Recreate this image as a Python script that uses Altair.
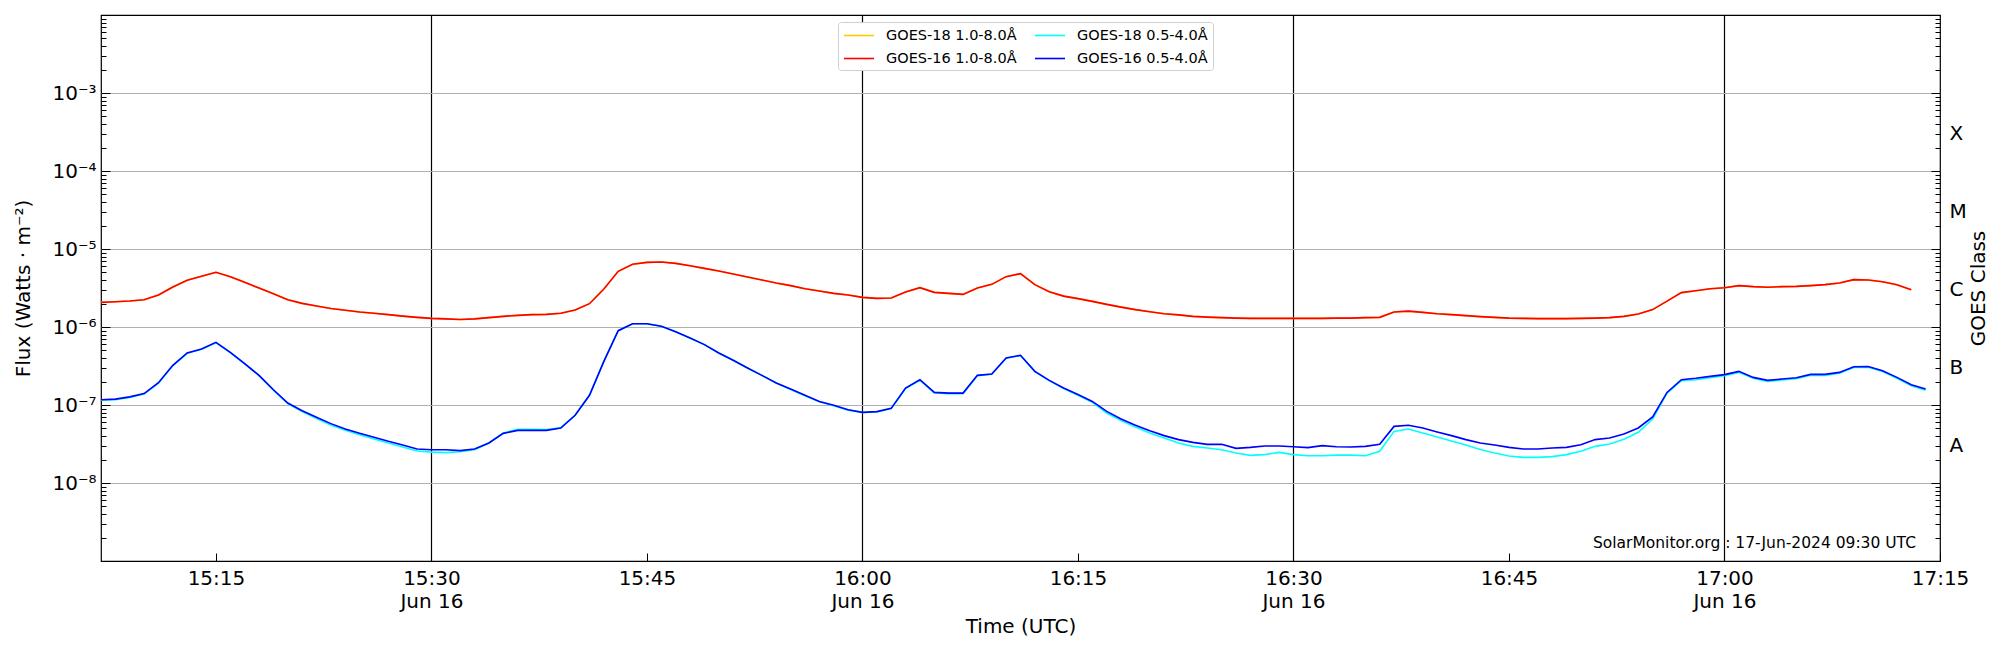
import math
import altair as alt
import pandas as pd

# ---- data (1-minute cadence starting 15:07 UTC, 16 Jun 2024) ----
start_time = "2024-06-16 15:07"

goes16_long = [
    2.07e-6, 2.11e-6, 2.15e-6, 2.24e-6, 2.57e-6, 3.26e-6, 3.97e-6, 4.46e-6, 5.02e-6, 4.42e-6,
    3.74e-6, 3.16e-6, 2.67e-6, 2.24e-6, 2.01e-6, 1.86e-6, 1.73e-6, 1.64e-6, 1.56e-6, 1.50e-6,
    1.44e-6, 1.38e-6, 1.33e-6, 1.29e-6, 1.27e-6, 1.25e-6, 1.27e-6, 1.32e-6, 1.37e-6, 1.41e-6,
    1.44e-6, 1.45e-6, 1.50e-6, 1.65e-6, 1.99e-6, 3.07e-6, 5.18e-6, 6.36e-6, 6.74e-6, 6.81e-6,
    6.54e-6, 6.11e-6, 5.65e-6, 5.22e-6, 4.78e-6, 4.38e-6, 4.01e-6, 3.66e-6, 3.39e-6, 3.10e-6,
    2.90e-6, 2.70e-6, 2.57e-6, 2.40e-6, 2.33e-6, 2.35e-6, 2.81e-6, 3.19e-6, 2.78e-6, 2.70e-6,
    2.62e-6, 3.16e-6, 3.52e-6, 4.42e-6, 4.83e-6, 3.49e-6, 2.84e-6, 2.49e-6, 2.31e-6, 2.13e-6,
    1.95e-6, 1.80e-6, 1.67e-6, 1.57e-6, 1.48e-6, 1.43e-6, 1.37e-6, 1.34e-6, 1.32e-6, 1.30e-6,
    1.29e-6, 1.29e-6, 1.29e-6, 1.29e-6, 1.29e-6, 1.29e-6, 1.30e-6, 1.30e-6, 1.32e-6, 1.33e-6,
    1.56e-6, 1.60e-6, 1.54e-6, 1.48e-6, 1.44e-6, 1.40e-6, 1.36e-6, 1.33e-6, 1.30e-6, 1.29e-6,
    1.28e-6, 1.28e-6, 1.28e-6, 1.29e-6, 1.30e-6, 1.32e-6, 1.37e-6, 1.47e-6, 1.67e-6, 2.15e-6,
    2.76e-6, 2.92e-6, 3.10e-6, 3.19e-6, 3.39e-6, 3.29e-6, 3.23e-6, 3.29e-6, 3.32e-6, 3.39e-6,
    3.49e-6, 3.66e-6, 4.05e-6, 4.01e-6, 3.81e-6, 3.49e-6, 3.01e-6,
]

# GOES-18 long channel lies underneath GOES-16 long channel in the picture
goes18_long = [
    2.07e-6, 2.11e-6, 2.15e-6, 2.24e-6, 2.57e-6, 3.26e-6, 3.97e-6, 4.46e-6, 5.02e-6, 4.42e-6,
    3.74e-6, 3.16e-6, 2.67e-6, 2.24e-6, 2.01e-6, 1.86e-6, 1.73e-6, 1.64e-6, 1.56e-6, 1.50e-6,
    1.44e-6, 1.38e-6, 1.33e-6, 1.29e-6, 1.27e-6, 1.25e-6, 1.27e-6, 1.32e-6, 1.37e-6, 1.41e-6,
    1.44e-6, 1.45e-6, 1.50e-6, 1.65e-6, 1.99e-6, 3.07e-6, 5.18e-6, 6.36e-6, 6.74e-6, 6.81e-6,
    6.54e-6, 6.11e-6, 5.65e-6, 5.22e-6, 4.78e-6, 4.38e-6, 4.01e-6, 3.66e-6, 3.39e-6, 3.10e-6,
    2.90e-6, 2.70e-6, 2.57e-6, 2.40e-6, 2.33e-6, 2.35e-6, 2.81e-6, 3.19e-6, 2.78e-6, 2.70e-6,
    2.62e-6, 3.16e-6, 3.52e-6, 4.42e-6, 4.83e-6, 3.49e-6, 2.84e-6, 2.49e-6, 2.31e-6, 2.13e-6,
    1.95e-6, 1.80e-6, 1.67e-6, 1.57e-6, 1.48e-6, 1.43e-6, 1.37e-6, 1.34e-6, 1.32e-6, 1.30e-6,
    1.29e-6, 1.29e-6, 1.29e-6, 1.29e-6, 1.29e-6, 1.29e-6, 1.30e-6, 1.30e-6, 1.32e-6, 1.33e-6,
    1.56e-6, 1.60e-6, 1.54e-6, 1.48e-6, 1.44e-6, 1.40e-6, 1.36e-6, 1.33e-6, 1.30e-6, 1.29e-6,
    1.28e-6, 1.28e-6, 1.28e-6, 1.29e-6, 1.30e-6, 1.32e-6, 1.37e-6, 1.47e-6, 1.67e-6, 2.15e-6,
    2.76e-6, 2.92e-6, 3.10e-6, 3.19e-6, 3.39e-6, 3.29e-6, 3.23e-6, 3.29e-6, 3.32e-6, 3.39e-6,
    3.49e-6, 3.66e-6, 4.05e-6, 4.01e-6, 3.81e-6, 3.49e-6, 3.01e-6,
]

goes16_short = [
    1.17e-7, 1.19e-7, 1.27e-7, 1.40e-7, 1.93e-7, 3.23e-7, 4.65e-7, 5.23e-7, 6.36e-7, 4.73e-7,
    3.39e-7, 2.40e-7, 1.57e-7, 1.06e-7, 8.46e-8, 6.95e-8, 5.77e-8, 4.92e-8, 4.33e-8, 3.85e-8,
    3.42e-8, 3.07e-8, 2.73e-8, 2.67e-8, 2.67e-8, 2.60e-8, 2.73e-8, 3.26e-8, 4.33e-8, 4.73e-8,
    4.73e-8, 4.73e-8, 5.07e-8, 7.38e-8, 1.33e-7, 3.63e-7, 8.97e-7, 1.10e-6, 1.10e-6, 1.02e-6,
    8.71e-7, 7.22e-7, 5.94e-7, 4.65e-7, 3.74e-7, 2.98e-7, 2.40e-7, 1.91e-7, 1.60e-7, 1.33e-7,
    1.11e-7, 9.91e-8, 8.71e-8, 8.05e-8, 8.22e-8, 9.06e-8, 1.65e-7, 2.11e-7, 1.45e-7, 1.42e-7,
    1.42e-7, 2.40e-7, 2.50e-7, 4.01e-7, 4.34e-7, 2.70e-7, 2.07e-7, 1.65e-7, 1.36e-7, 1.11e-7,
    8.29e-8, 6.62e-8, 5.49e-8, 4.69e-8, 4.05e-8, 3.60e-8, 3.32e-8, 3.13e-8, 3.13e-8, 2.78e-8,
    2.86e-8, 2.98e-8, 2.98e-8, 2.92e-8, 2.84e-8, 3.01e-8, 2.92e-8, 2.90e-8, 2.95e-8, 3.13e-8,
    5.32e-8, 5.49e-8, 5.07e-8, 4.51e-8, 4.05e-8, 3.60e-8, 3.26e-8, 3.07e-8, 2.86e-8, 2.73e-8,
    2.73e-8, 2.81e-8, 2.86e-8, 3.10e-8, 3.60e-8, 3.78e-8, 4.25e-8, 5.07e-8, 7.02e-8, 1.45e-7,
    2.11e-7, 2.20e-7, 2.33e-7, 2.45e-7, 2.70e-7, 2.26e-7, 2.07e-7, 2.15e-7, 2.24e-7, 2.47e-7,
    2.47e-7, 2.62e-7, 3.10e-7, 3.12e-7, 2.75e-7, 2.26e-7, 1.82e-7, 1.60e-7,
]

goes18_short = [
    1.15e-7, 1.17e-7, 1.25e-7, 1.38e-7, 1.90e-7, 3.20e-7, 4.60e-7, 5.20e-7, 6.30e-7, 4.70e-7,
    3.36e-7, 2.38e-7, 1.55e-7, 1.04e-7, 8.22e-8, 6.70e-8, 5.54e-8, 4.73e-8, 4.17e-8, 3.67e-8,
    3.26e-8, 2.90e-8, 2.57e-8, 2.49e-8, 2.45e-8, 2.52e-8, 2.67e-8, 3.26e-8, 4.38e-8, 4.88e-8,
    4.88e-8, 4.83e-8, 5.12e-8, 7.38e-8, 1.33e-7, 3.63e-7, 8.97e-7, 1.10e-6, 1.10e-6, 1.02e-6,
    8.71e-7, 7.22e-7, 5.94e-7, 4.65e-7, 3.74e-7, 2.98e-7, 2.40e-7, 1.91e-7, 1.58e-7, 1.31e-7,
    1.10e-7, 9.80e-8, 8.60e-8, 8.00e-8, 8.15e-8, 9.00e-8, 1.63e-7, 2.09e-7, 1.43e-7, 1.40e-7,
    1.40e-7, 2.38e-7, 2.48e-7, 3.98e-7, 4.30e-7, 2.68e-7, 2.05e-7, 1.62e-7, 1.33e-7, 1.08e-7,
    7.89e-8, 6.30e-8, 5.22e-8, 4.38e-8, 3.78e-8, 3.26e-8, 2.95e-8, 2.81e-8, 2.67e-8, 2.43e-8,
    2.26e-8, 2.31e-8, 2.47e-8, 2.31e-8, 2.24e-8, 2.24e-8, 2.28e-8, 2.28e-8, 2.24e-8, 2.55e-8,
    4.59e-8, 4.92e-8, 4.38e-8, 3.89e-8, 3.45e-8, 3.07e-8, 2.69e-8, 2.43e-8, 2.22e-8, 2.13e-8,
    2.13e-8, 2.18e-8, 2.31e-8, 2.55e-8, 2.95e-8, 3.16e-8, 3.64e-8, 4.47e-8, 6.62e-8, 1.42e-7,
    2.05e-7, 2.11e-7, 2.24e-7, 2.38e-7, 2.62e-7, 2.20e-7, 2.01e-7, 2.09e-7, 2.18e-7, 2.40e-7,
    2.40e-7, 2.55e-7, 3.02e-7, 3.04e-7, 2.68e-7, 2.20e-7, 1.77e-7, 1.55e-7,
]

series_names = ["GOES-18 1.0-8.0Å", "GOES-18 0.5-4.0Å", "GOES-16 1.0-8.0Å", "GOES-16 0.5-4.0Å"]
series_colors = ["#ffc800", "#00ffff", "#ff0000", "#0000ff"]

x_tick_times = ["15:15", "15:30", "15:45", "16:00", "16:15", "16:30", "16:45", "17:00", "17:15"]
class_letters = ["A", "B", "C", "M", "X"]
class_positions = [3e-8, 3e-7, 3e-6, 3e-5, 3e-4]
decade_labels = {-3: "10⁻³", -4: "10⁻⁴", -5: "10⁻⁵", -6: "10⁻⁶", -7: "10⁻⁷", -8: "10⁻⁸"}
watermark = "SolarMonitor.org : 17-Jun-2024 09:30 UTC"

FONT = "DejaVu Sans"
FS = 20

times = pd.date_range(start_time, periods=len(goes16_short), freq="min")


def frame(name, vals):
    return pd.DataFrame({
        "time": [t.strftime("%Y-%m-%dT%H:%M:00Z") for t in times[:len(vals)]],
        "flux": vals,
        "series": name,
    })


def dt(hm):
    h, m = hm.split(":")
    return alt.DateTime(year=2024, month=6, date=16, hours=int(h), minutes=int(m), utc=True)


# ---- axes ----
LOGV = "log(datum.value)/LN10"
IS_DECADE = f"abs({LOGV} - round({LOGV})) < 0.01"
ytick_values = [float(f"{m}e{k}") for k in range(-9, -2) for m in range(1, 10)] + [1e-2]

label_parts = " : ".join(f"round({LOGV}) == {k} ? '{s}'" for k, s in decade_labels.items())
y_label_expr = f"{IS_DECADE} ? ({label_parts} : '') : ''"
grid_test = f"{IS_DECADE} && round({LOGV}) >= -8 && round({LOGV}) <= -3"

class_expr = " : ".join(
    f"abs({LOGV} - ({math.log10(p):.4f})) < 0.01 ? '{c}'"
    for c, p in zip(class_letters, class_positions)
) + " : ''"

x_label_expr = ("utcminutes(datum.value) % 30 == 0 ? "
                "[utcFormat(datum.value, '%H:%M'), 'Jun 16'] : utcFormat(datum.value, '%H:%M')")

x_axis = alt.Axis(
    values=[dt(t) for t in x_tick_times],
    labelExpr=x_label_expr,
    labelFlush=False,
    labelFontSize=FS,
    labelLineHeight=23,
    labelPadding=15,
    tickSize={"expr": "-8"},
    tickColor="black",
    tickWidth=1,
    domain=False,
    grid=True,
    gridColor="black",
    gridWidth=1.2,
    gridOpacity={"condition": {"test": "utcminutes(datum.value) % 30 == 0", "value": 1}, "value": 0},
    title="Time (UTC)",
    titleFontSize=FS,
    titleY=71,
    titleBaseline="alphabetic",
)

y_axis = alt.Axis(
    values=ytick_values,
    labelExpr=y_label_expr,
    labelFontSize=FS,
    labelPadding=14,
    labelOverlap=False,
    tickSize={"condition": {"test": IS_DECADE, "value": -9}, "value": -5},
    tickColor="black",
    tickWidth=1,
    domain=False,
    grid=True,
    gridColor="#b0b0b0",
    gridWidth=1,
    gridOpacity={"condition": {"test": grid_test, "value": 1}, "value": 0},
    title="Flux (Watts · m⁻²)",
    titleFontSize=FS,
    titleX=-78,
    titleY=273,
    titleBaseline="middle",
)

y_axis_right = alt.Axis(
    orient="right",
    values=ytick_values,
    labelExpr=class_expr,
    labelFontSize=FS,
    labelPadding=14,
    labelOverlap=False,
    tickSize={"condition": {"test": IS_DECADE, "value": -9}, "value": -5},
    tickColor="black",
    tickWidth=1,
    domain=False,
    grid=False,
    title="GOES Class",
    titleFontSize=FS,
    titleX=38,
    titleY=273,
    titleAngle=270,
    titleBaseline="middle",
)

x_scale = alt.Scale(type="utc", domain=[dt("15:07"), dt("17:15")])
y_scale = alt.Scale(type="log", domain=[1e-9, 1e-2], nice=False)
color_scale = alt.Scale(domain=series_names, range=series_colors)


def line_layer(name, vals):
    return alt.Chart(frame(name, vals)).mark_line(strokeWidth=1.6).encode(
        x=alt.X("time:T", scale=x_scale, axis=x_axis),
        y=alt.Y("flux:Q", scale=y_scale, axis=y_axis),
        color=alt.Color("series:N", scale=color_scale, legend=alt.Legend(title=None)),
    )


text_layer = alt.Chart(pd.DataFrame({"t": [watermark]})).mark_text(
    align="right", baseline="alphabetic", fontSize=15.5, font=FONT, color="black"
).encode(x=alt.value(1815), y=alt.value(533), text="t:N")

lines = alt.layer(
    line_layer(series_names[0], goes18_long),
    line_layer(series_names[2], goes16_long),
    line_layer(series_names[1], goes18_short),
    line_layer(series_names[3], goes16_short),
    text_layer,
)

right = alt.Chart(frame("right", goes16_long)).mark_line(opacity=0).encode(
    x=alt.X("time:T", scale=x_scale, axis=x_axis),
    y=alt.Y("flux:Q", scale=y_scale, axis=y_axis_right),
)

chart = alt.layer(lines, right).resolve_scale(y="independent").properties(
    width=1839,
    height=546,
    autosize=alt.AutoSizeParams(type="none"),
    padding={"left": 93, "top": 7, "right": 52, "bottom": 81},
).configure(
    font=FONT,
).configure_view(
    stroke="black",
    strokeWidth=1.2,
).configure_axis(
    labelFont=FONT,
    titleFont=FONT,
    labelColor="black",
    titleColor="black",
    titleFontWeight="normal",
).configure_legend(
    orient="none",
    legendX=737,
    legendY=7,
    columns=2,
    direction="horizontal",
    labelFont=FONT,
    labelFontSize=14.5,
    labelColor="black",
    symbolType="M-1,0H3",
    symbolSize=225,
    symbolStrokeWidth=1.6,
    labelOffset=26,
    columnPadding=14,
    rowPadding=8,
    padding=5,
    strokeColor="#d0d0d0",
    fillColor="white",
    cornerRadius=3,
)

chart.save("out.html", embed_options={"renderer": "svg", "actions": False})
